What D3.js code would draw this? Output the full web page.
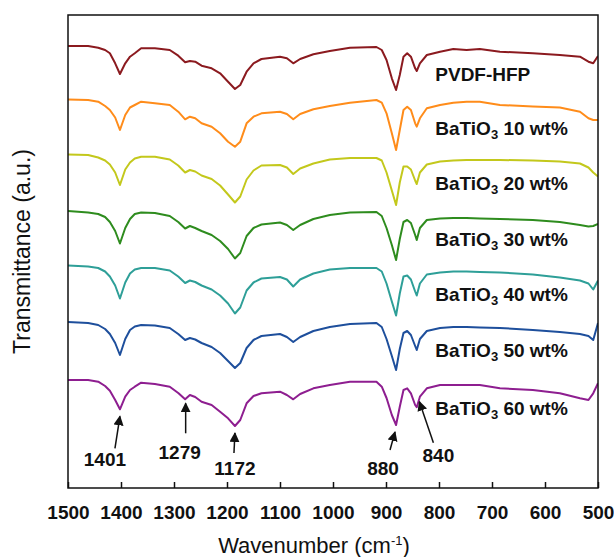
<!DOCTYPE html>
<html>
<head>
<meta charset="utf-8">
<script src="https://cdn.jsdelivr.net/npm/d3@7"></script>
<style>
body { margin: 0; background: #fff; }
text { font-family: Arial, "Liberation Sans", sans-serif; fill: #111; }
</style>
</head>
<body>
<div id="graph"></div>
<script>
// wavenumber grid (cm-1) shared by every spectrum
var wavenumbers = [1500, 1462, 1443, 1430, 1421, 1411, 1402, 1392, 1383, 1374, 1362, 1336, 1308, 1292, 1279, 1270,
  1260, 1248, 1229, 1213, 1198, 1185, 1175, 1163, 1150, 1135, 1100, 1087, 1075, 1062, 1037, 1006, 968, 918, 908,
  899, 889, 881, 874, 867, 860, 853, 845, 842, 836, 823, 798, 773, 748, 723, 685, 623, 572, 534, 518, 509, 500];

// transmittance (a.u.) of each sample, relative to its own baseline
var pvdfHfp = [0, 0, -1.7, -4, -7.3, -17.3, -28, -17.3, -10.7, -7.3, -2.3, -2.3, -4, -9.7, -16.3, -15,
  -15.7, -19.7, -22.3, -27.3, -35.7, -43, -39, -25.7, -17.3, -13, -10.7, -12.3, -17.3, -13, -8.3, -5, -1.7, -1, -4,
  -14, -32.3, -44, -29, -10.7, -7.3, -10.7, -22.3, -25, -17.3, -9, -5.7, -3, -4, -3, -5.7, -7.3, -9, -10.7, -15.7, -17.3, -10];
var bto10 = [0, -0.5, -2.2, -6.5, -10.5, -18, -30.5, -15.5, -8, -5.5, -2.2, -3.8, -5.5, -12.2, -19.8, -17.2,
  -18.8, -23.8, -27.2, -33.8, -42.2, -47.2, -42.2, -23.8, -17.2, -13.8, -12.2, -14.5, -19.8, -14.5, -9.8, -6.5, -3.2, -0.5, -3.2,
  -13.8, -33.8, -50.5, -30.5, -10.5, -7.2, -10.5, -23.8, -27.2, -18.8, -8.8, -5.5, -3.2, -2.2, -2.2, -5.5, -7, -8, -12.2, -18.8, -20.5, -20.5];
var bto20 = [0, -0.5, -3, -6, -10, -18, -30.5, -15, -8, -4, -2.2, -2.2, -5, -11, -18, -15.5,
  -17, -21, -24.5, -31, -40, -48, -42, -25, -16, -11, -10.5, -13, -19.5, -14, -9, -5, -3.5, -3.5, -6,
  -18, -36, -50.5, -28, -12, -12, -15, -26, -29.5, -18, -10, -7, -6, -5.5, -5.5, -5.5, -6, -7, -9, -13, -18, -22];
var bto30 = [0, -1.5, -3, -6, -11, -20, -32.5, -17, -8, -3, -1.5, -2, -5, -11, -17.5, -15,
  -17, -20, -24, -30, -38, -47.5, -42, -25, -17, -13.5, -11.5, -14, -19, -14, -8, -4, -1.5, -1, -5,
  -17, -34, -49, -28, -11, -9, -12, -24, -29, -17, -9, -7.5, -7, -7, -7.5, -8, -9, -11, -14, -15.5, -15, -13];
var bto40 = [0, -1, -2.5, -6, -11, -20, -33, -17, -8, -4, -2.5, -2.5, -5, -11, -17.5, -15,
  -16.5, -20, -24, -30, -38, -48, -42, -25, -17, -13, -11.5, -14, -21, -14, -8, -4, -2.5, -2.5, -6,
  -18, -36, -50, -28, -11, -10, -14, -26, -30, -18, -9, -7, -6, -6, -6.5, -7, -9, -12, -15, -18, -24, -15];
var bto50 = [0, -1, -3, -7, -12, -21, -33, -17, -8, -4.5, -3, -3.5, -6, -12, -18, -16,
  -17.5, -21, -25, -31, -39, -46, -41, -26, -18, -14, -12, -15, -20, -15, -9, -5, -2, -1, -5,
  -17, -34, -48, -27, -11, -9, -13, -24, -28, -17, -9, -6, -5, -5, -5.5, -6, -8, -10, -12, -14, -18, -1];
var bto60 = [0, 0, -1.7, -6, -10.7, -20, -29.3, -16.7, -10, -6.7, -2.7, -4, -6.7, -13, -19.3, -15,
  -17, -21.7, -25, -31.7, -38.3, -46, -40, -23.3, -16, -13.3, -11.7, -15, -19.3, -14, -8.3, -5, -1.7, -1.7, -6.7,
  -18, -35, -45, -26.7, -10, -8.3, -13.3, -25, -27.3, -16.7, -8.3, -5, -5, -5, -5, -8.3, -10, -13.3, -18.3, -20, -13.3, -3.3];

var spectra = [pvdfHfp, bto10, bto20, bto30, bto40, bto50, bto60];
var sampleNames = ["PVDF-HFP", "10 wt%", "20 wt%", "30 wt%", "40 wt%", "50 wt%", "60 wt%"];
// vertical stacking offset of each spectrum (a.u.)
var stackOffsets = [0, -53.5, -108.5, -165, -219.5, -276, -334];

var xTicks = [1500, 1400, 1300, 1200, 1100, 1000, 900, 800, 700, 600, 500];
var peakLabels = ["1401", "1279", "1172", "880", "840"];
var peakPositions = [1402, 1278, 1185, 883, 837];

var colors = ["#8b1a1f", "#ff8c1a", "#c3c81c", "#2e8c1e", "#2e9f98", "#1e4f9c", "#8e1e90"];

var svg = d3.select('#graph').append('svg')
  .attr('width', 614)
  .attr('height', 557);
var margin = {top: 15, right: 16, bottom: 69, left: 68},
  width = 614 - margin.left - margin.right,
  height = 557 - margin.top - margin.bottom,
  g = svg.append('g').attr('transform', 'translate(' + margin.left + ',' + margin.top + ')');

var x = d3.scaleLinear().domain([1500, 500]).range([0, width]);
var y = d3.scaleLinear().domain([-442, 31]).range([height, 0]);

g.append('clipPath').attr('id', 'plotclip')
  .append('rect').attr('width', width).attr('height', height);

var specLine = d3.line()
  .x(function(d, i) { return x(wavenumbers[i]); })
  .y(function(d) { return y(d); });

spectra.forEach(function(vals, k) {
  g.append('path')
    .datum(vals.map(function(v) { return v + stackOffsets[k]; }))
    .attr('clip-path', 'url(#plotclip)')
    .attr('fill', 'none')
    .attr('stroke', colors[k])
    .attr('stroke-width', 2)
    .attr('stroke-linejoin', 'round')
    .attr('d', specLine);
});

// sample labels
spectra.forEach(function(vals, k) {
  var t = g.append('text')
    .attr('x', x(807))
    .attr('y', y(stackOffsets[k]) + 35)
    .style('font-size', '19px')
    .style('font-weight', 'bold');
  if (k === 0) {
    t.text(sampleNames[k]);
  } else {
    t.append('tspan').text('BaTiO');
    t.append('tspan').text('3').attr('dy', 4).style('font-size', '13px');
    t.append('tspan').text(' ' + sampleNames[k]).attr('dy', -4);
  }
});

// peak annotations with arrows (layout offsets in px)
var arrowLayout = [
  {gap: 7, dx: -5, len: 32, lx: -15, ly: 50},
  {gap: 4, dx: 0, len: 30, lx: -6, ly: 56},
  {gap: 7, dx: -1, len: 20, lx: 0, ly: 42},
  {gap: 7, dx: -5, len: 18, lx: -12, ly: 43},
  {gap: 5, dx: 14, len: 41, lx: 19, ly: 60}
];
svg.append('defs').append('marker')
  .attr('id', 'head')
  .attr('viewBox', '0 0 10 10')
  .attr('refX', 9).attr('refY', 5)
  .attr('markerWidth', 10).attr('markerHeight', 10)
  .attr('markerUnits', 'userSpaceOnUse')
  .attr('orient', 'auto')
  .append('path').attr('d', 'M0,0 L10,5 L0,10 Z').attr('fill', '#111');

peakPositions.forEach(function(p, i) {
  var idx = d3.leastIndex(wavenumbers, function(w) { return Math.abs(w - p); });
  var tipX = x(p), tipY = y(bto60[idx] + stackOffsets[6]) + arrowLayout[i].gap;
  var L = arrowLayout[i];
  g.append('line')
    .attr('x1', tipX + L.dx).attr('y1', tipY + L.len)
    .attr('x2', tipX).attr('y2', tipY)
    .attr('stroke', '#111').attr('stroke-width', 1.5)
    .attr('marker-end', 'url(#head)');
  g.append('text')
    .attr('x', tipX + L.lx)
    .attr('y', tipY + L.ly)
    .attr('text-anchor', 'middle')
    .style('font-size', '19px')
    .style('font-weight', 'bold')
    .text(peakLabels[i]);
});

// x axis with inward ticks
var xAxis = g.append('g')
  .attr('transform', 'translate(0,' + height + ')')
  .call(d3.axisBottom(x).tickValues(xTicks).tickSize(-6).tickPadding(18).tickFormat(d3.format('d')));
xAxis.select('.domain').remove();
xAxis.selectAll('line').attr('stroke', '#111').attr('stroke-width', 1.5);
xAxis.selectAll('text')
  .style('font-size', '19px')
  .style('font-weight', 'bold')
  .style('font-family', 'Arial, "Liberation Sans", sans-serif')
  .attr('fill', '#111');

// frame
g.append('rect')
  .attr('width', width).attr('height', height)
  .attr('fill', 'none').attr('stroke', '#111').attr('stroke-width', 1.5);

// axis titles
var xt = svg.append('text')
  .attr('x', 314).attr('y', 553)
  .attr('text-anchor', 'middle')
  .style('font-size', '22px');
xt.append('tspan').text('Wavenumber (cm');
xt.append('tspan').text('-1').attr('dy', -8).style('font-size', '13px');
xt.append('tspan').text(')').attr('dy', 8);

svg.append('text')
  .attr('transform', 'translate(30,' + (margin.top + height / 2) + ') rotate(-90)')
  .attr('text-anchor', 'middle')
  .style('font-size', '23px')
  .text('Transmittance (a.u.)');
</script>
</body>
</html>
